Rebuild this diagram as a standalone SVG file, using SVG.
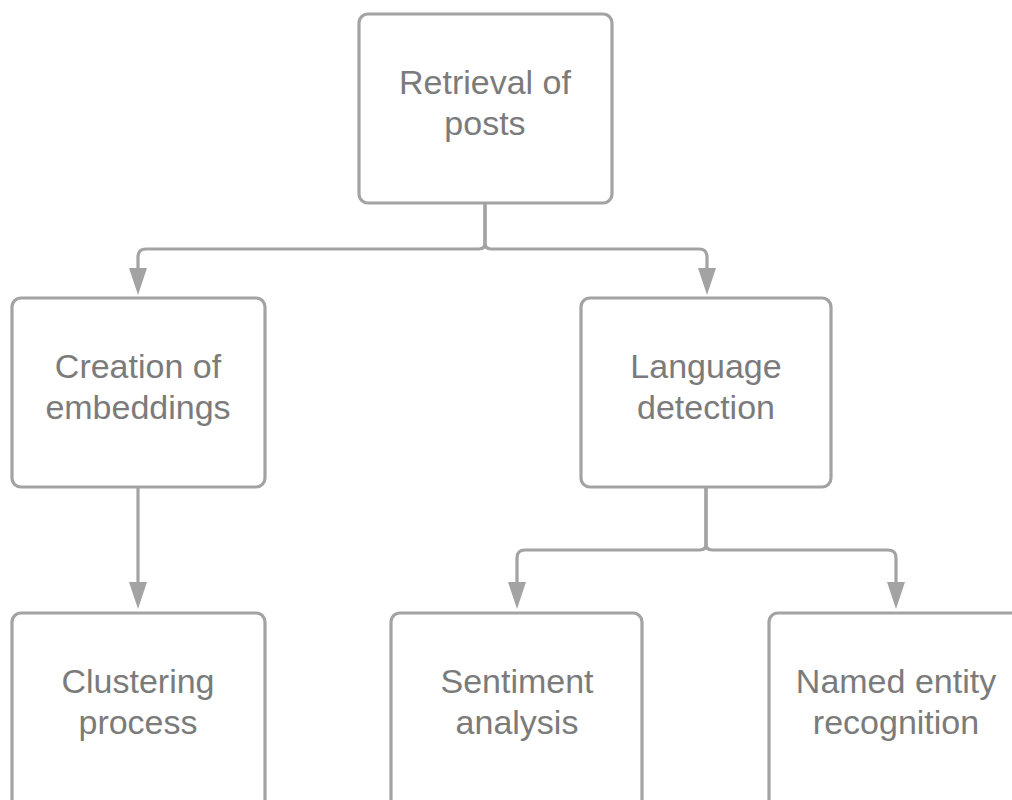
<svg xmlns="http://www.w3.org/2000/svg" width="1012" height="800" viewBox="0 0 1012 800">
<style>
.box{fill:#ffffff;stroke:#a3a3a3;stroke-width:3.2}
.lbl{font-family:"Liberation Sans",Arial,sans-serif;font-size:34px;fill:#7b7b7b;text-anchor:middle}
.conn{fill:none;stroke:#a3a3a3;stroke-width:3.2}
.head{fill:#a3a3a3}
</style>
<defs>
<path id="ah" d="M-9,-27 L9,-27 L0,0 Z"/>
</defs>
<rect width="1012" height="800" fill="#ffffff"/>
<g id="connectors">
<path class="conn" d="M485,204 V243 Q485,249 479,249 H146 Q138,249 138,257 V270"/>
<path class="conn" d="M485,204 V243 Q485,249 491,249 H699 Q707,249 707,257 V270"/>
<path class="conn" d="M138,488 V585"/>
<path class="conn" d="M706,488 V544 Q706,550 700,550 H525 Q517,550 517,558 V586"/>
<path class="conn" d="M706,488 V544 Q706,550 712,550 H888 Q896,550 896,558 V586"/>
<use href="#ah" class="head" x="138" y="295"/>
<use href="#ah" class="head" x="707" y="295"/>
<use href="#ah" class="head" x="138" y="609"/>
<use href="#ah" class="head" x="517" y="609"/>
<use href="#ah" class="head" x="896" y="609"/>
</g>
<g id="node-retrieval">
<rect class="box" x="359" y="14" width="253" height="189" rx="9"/>
<text class="lbl" x="485" y="94">Retrieval of</text>
<text class="lbl" x="485" y="135">posts</text>
</g>
<g id="node-creation">
<rect class="box" x="12" y="298" width="253" height="189" rx="9"/>
<text class="lbl" x="138" y="378">Creation of</text>
<text class="lbl" x="138" y="419">embeddings</text>
</g>
<g id="node-language">
<rect class="box" x="581" y="298" width="250" height="189" rx="9"/>
<text class="lbl" x="706" y="378">Language</text>
<text class="lbl" x="706" y="419">detection</text>
</g>
<g id="node-clustering">
<rect class="box" x="12" y="613" width="253" height="200" rx="9"/>
<text class="lbl" x="138" y="693">Clustering</text>
<text class="lbl" x="138" y="734">process</text>
</g>
<g id="node-sentiment">
<rect class="box" x="391" y="613" width="251" height="200" rx="9"/>
<text class="lbl" x="517" y="693">Sentiment</text>
<text class="lbl" x="517" y="734">analysis</text>
</g>
<g id="node-ner">
<rect class="box" x="769" y="613" width="260" height="200" rx="9"/>
<text class="lbl" x="896" y="693">Named entity</text>
<text class="lbl" x="896" y="734">recognition</text>
</g>
</svg>
